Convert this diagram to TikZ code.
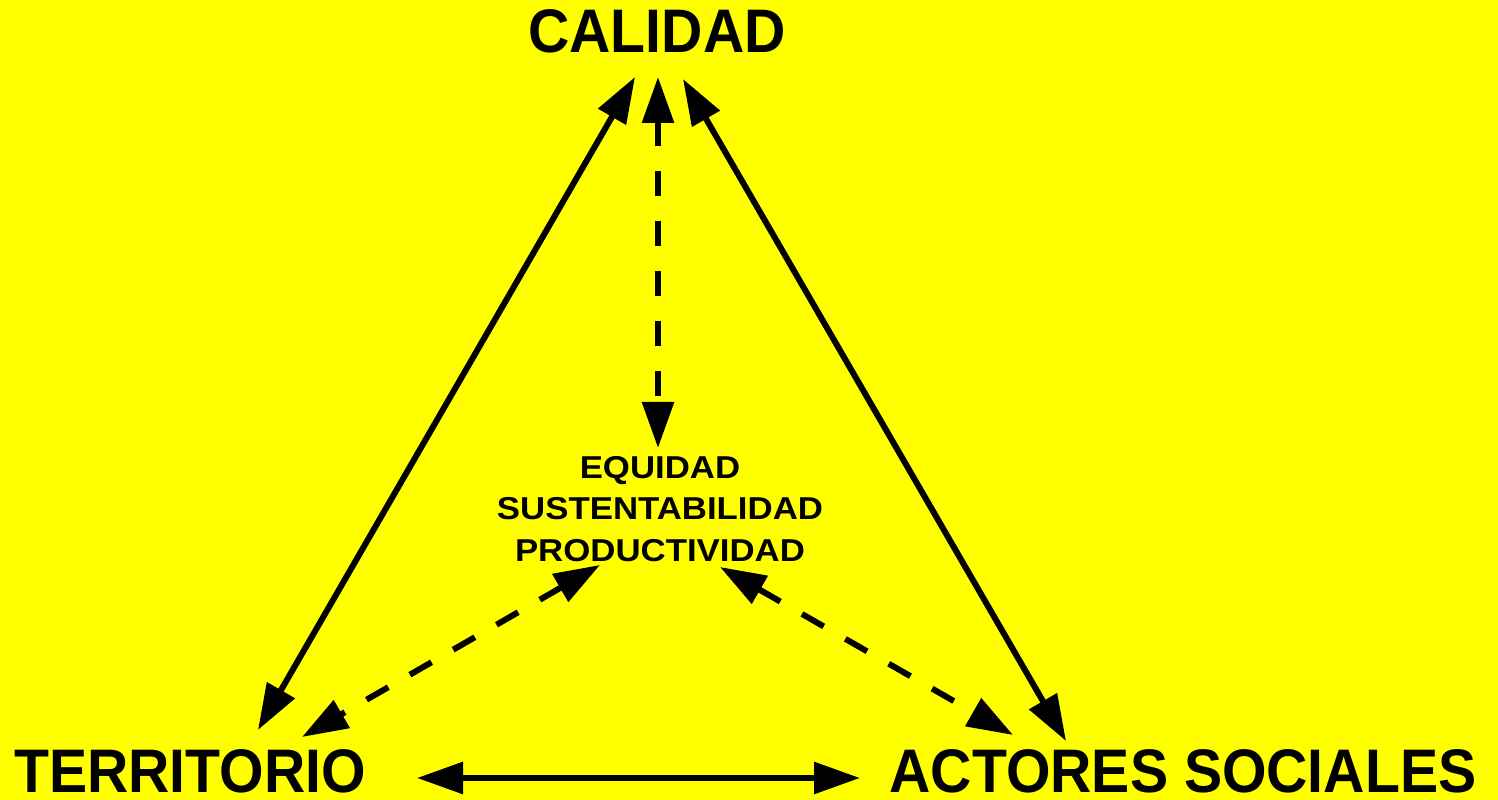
\documentclass[tikz,border=0pt]{standalone}
\usepackage{fontspec}
\setmainfont{Liberation Sans}
\newfontfamily\bigfont[FakeStretch=0.93]{Liberation Sans}
\newfontfamily\smallfont[FakeStretch=1.1]{Liberation Sans}
\usepackage{tikz}
\usetikzlibrary{arrows.meta}
\definecolor{bgyellow}{RGB}{255,255,0}

\begin{document}
\begin{tikzpicture}[
    big/.style={font=\bigfont\fontsize{17.5}{21}\selectfont\bfseries, inner sep=0pt, anchor=base},
    small/.style={font=\smallfont\fontsize{9}{11.8}\selectfont\bfseries, inner sep=0pt, align=center},
    arr/.style={{Triangle[length=4.6mm, width=3.1mm]}-{Triangle[length=4.6mm, width=3.1mm]}, line width=1.7pt},
    darr/.style={arr, dash pattern=on 0.25cm off 0.25cm}
]
% Background
\fill[bgyellow] (0, 0) rectangle (14.98, 8);
\useasboundingbox (0, 0) rectangle (14.98, 8);

% Corners and centre
\node[big] (cal) at (6.57, 7.47) {CALIDAD};
\node[big] (ter) at (1.90, 0.07) {TERRITORIO};
\node[big] (act) at (11.83, 0.07) {ACTORES SOCIALES};
\node[small] (mid) at (6.60, 2.91) {EQUIDAD\\SUSTENTABILIDAD\\PRODUCTIVIDAD};

% Arrow ends
\coordinate (calL) at (6.35, 7.23);
\coordinate (calM) at (6.58, 7.23);
\coordinate (calR) at (6.83, 7.21);
\coordinate (terT) at (2.58, 0.70);
\coordinate (terR) at (3.02, 0.63);
\coordinate (terE) at (4.17, 0.22);
\coordinate (actT) at (10.66, 0.59);
\coordinate (actL) at (10.13, 0.65);
\coordinate (actW) at (8.60, 0.22);
\coordinate (midT) at (6.58, 3.52);
\coordinate (midL) at (6.00, 2.35);
\coordinate (midR) at (7.20, 2.33);

% Triangle sides
\foreach \from/\to in {calL/terT, calR/actT, terE/actW} {
    \draw[arr] (\from) -- (\to);
}

% Links to the centre
\foreach \from/\to in {calM/midT, midL/terR, midR/actL} {
    \draw[darr] (\from) -- (\to);
}

\end{tikzpicture}
\end{document}
